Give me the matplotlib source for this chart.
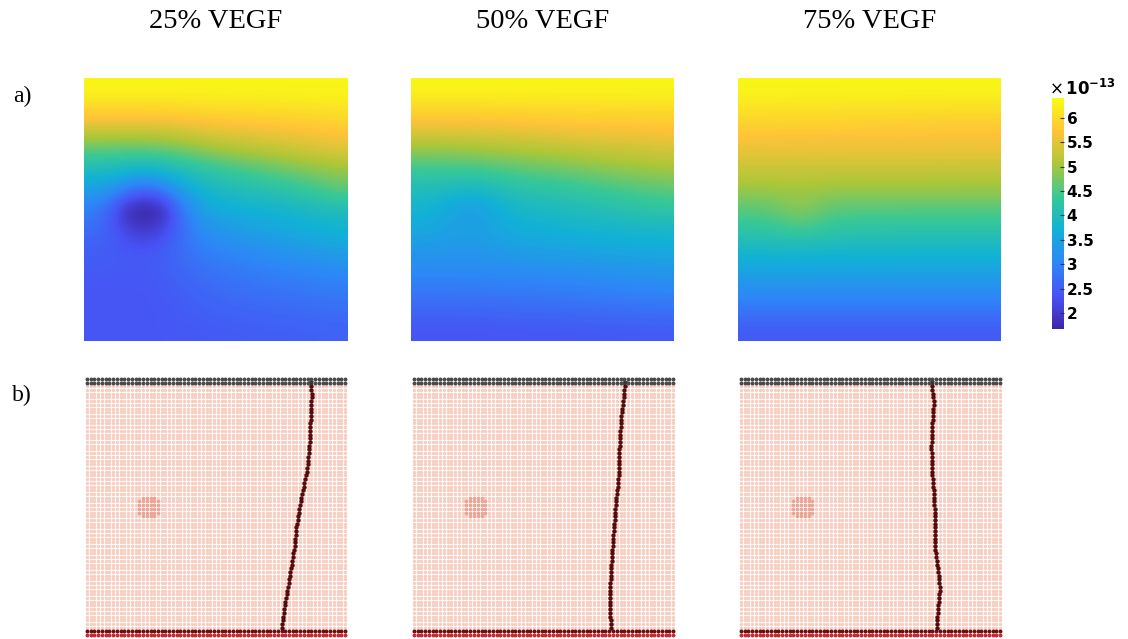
import numpy as np
import matplotlib
matplotlib.use('Agg')
import matplotlib.pyplot as plt
from matplotlib.colors import LinearSegmentedColormap

# 文字
titles = ['25% VEGF', '50% VEGF', '75% VEGF']
row_labels = ['a)', 'b)']

# VEGF 浓度场 (x 1e-13)，13 行(上->下) x 15 列
field_25 = [
    [6.35, 6.35, 6.35, 6.35, 6.35, 6.35, 6.35, 6.35, 6.35, 6.35, 6.35, 6.35, 6.35, 6.35, 6.35],
    [6.00, 6.00, 6.00, 6.00, 6.00, 6.02, 6.04, 6.05, 6.07, 6.08, 6.10, 6.10, 6.12, 6.13, 6.15],
    [5.40, 5.40, 5.40, 5.40, 5.42, 5.48, 5.54, 5.60, 5.63, 5.66, 5.68, 5.70, 5.74, 5.77, 5.80],
    [4.60, 4.60, 4.60, 4.60, 4.65, 4.75, 4.88, 5.00, 5.08, 5.16, 5.23, 5.30, 5.37, 5.44, 5.50],
    [4.00, 3.95, 3.90, 3.85, 3.92, 4.05, 4.18, 4.30, 4.40, 4.50, 4.60, 4.70, 4.80, 4.88, 4.95],
    [3.40, 3.25, 2.90, 2.60, 2.90, 3.40, 3.72, 3.90, 4.00, 4.08, 4.15, 4.22, 4.35, 4.48, 4.60],
    [2.95, 2.50, 1.70, 1.55, 1.75, 2.75, 3.35, 3.60, 3.65, 3.70, 3.75, 3.80, 3.87, 3.94, 4.00],
    [2.70, 2.50, 2.15, 1.95, 2.20, 2.65, 3.05, 3.25, 3.35, 3.45, 3.52, 3.60, 3.65, 3.70, 3.75],
    [2.50, 2.48, 2.42, 2.40, 2.50, 2.70, 2.90, 3.00, 3.07, 3.14, 3.20, 3.27, 3.33, 3.40, 3.45],
    [2.45, 2.45, 2.45, 2.45, 2.50, 2.60, 2.70, 2.80, 2.85, 2.90, 2.95, 3.00, 3.03, 3.07, 3.10],
    [2.40, 2.40, 2.40, 2.40, 2.45, 2.52, 2.60, 2.65, 2.70, 2.74, 2.78, 2.80, 2.83, 2.87, 2.90],
    [2.40, 2.40, 2.40, 2.40, 2.42, 2.46, 2.50, 2.55, 2.58, 2.60, 2.62, 2.64, 2.66, 2.68, 2.70],
    [2.40, 2.40, 2.40, 2.40, 2.41, 2.42, 2.44, 2.45, 2.47, 2.49, 2.50, 2.51, 2.52, 2.54, 2.55],
]
field_50 = [
    [6.35, 6.35, 6.35, 6.35, 6.35, 6.35, 6.35, 6.35, 6.35, 6.35, 6.35, 6.35, 6.35, 6.35, 6.35],
    [6.00, 6.00, 6.00, 6.00, 6.00, 6.00, 6.01, 6.02, 6.02, 6.03, 6.03, 6.04, 6.04, 6.05, 6.05],
    [5.55, 5.55, 5.56, 5.57, 5.59, 5.61, 5.63, 5.65, 5.67, 5.69, 5.70, 5.71, 5.72, 5.74, 5.75],
    [4.95, 4.95, 4.97, 5.00, 5.04, 5.08, 5.12, 5.15, 5.19, 5.23, 5.27, 5.30, 5.33, 5.37, 5.40],
    [4.40, 4.40, 4.40, 4.42, 4.47, 4.54, 4.60, 4.65, 4.70, 4.76, 4.82, 4.87, 4.92, 4.96, 5.00],
    [4.00, 3.98, 3.92, 3.85, 3.95, 4.07, 4.15, 4.20, 4.25, 4.30, 4.37, 4.43, 4.50, 4.55, 4.60],
    [3.80, 3.65, 3.45, 3.38, 3.50, 3.75, 3.86, 3.90, 3.95, 4.00, 4.05, 4.10, 4.15, 4.20, 4.25],
    [3.55, 3.50, 3.45, 3.42, 3.50, 3.60, 3.66, 3.70, 3.73, 3.76, 3.78, 3.80, 3.82, 3.84, 3.85],
    [3.30, 3.30, 3.30, 3.30, 3.33, 3.38, 3.42, 3.45, 3.48, 3.50, 3.53, 3.55, 3.57, 3.59, 3.60],
    [3.10, 3.10, 3.10, 3.10, 3.11, 3.13, 3.14, 3.15, 3.17, 3.19, 3.21, 3.24, 3.26, 3.28, 3.30],
    [2.85, 2.85, 2.85, 2.86, 2.87, 2.88, 2.89, 2.90, 2.92, 2.94, 2.96, 2.98, 3.00, 3.03, 3.05],
    [2.60, 2.60, 2.60, 2.61, 2.62, 2.63, 2.64, 2.65, 2.66, 2.68, 2.70, 2.71, 2.72, 2.74, 2.75],
    [2.38, 2.38, 2.38, 2.38, 2.39, 2.39, 2.40, 2.40, 2.41, 2.42, 2.42, 2.43, 2.44, 2.44, 2.45],
]
field_75 = [
    [6.35, 6.35, 6.35, 6.35, 6.35, 6.35, 6.35, 6.35, 6.35, 6.35, 6.35, 6.35, 6.35, 6.35, 6.35],
    [6.12, 6.12, 6.12, 6.11, 6.11, 6.11, 6.10, 6.10, 6.10, 6.09, 6.09, 6.09, 6.08, 6.08, 6.08],
    [5.85, 5.85, 5.84, 5.83, 5.83, 5.82, 5.81, 5.80, 5.79, 5.78, 5.78, 5.77, 5.76, 5.76, 5.75],
    [5.55, 5.55, 5.56, 5.56, 5.57, 5.57, 5.58, 5.58, 5.59, 5.59, 5.60, 5.60, 5.61, 5.61, 5.62],
    [5.30, 5.30, 5.30, 5.30, 5.29, 5.29, 5.28, 5.28, 5.28, 5.27, 5.27, 5.26, 5.26, 5.25, 5.25],
    [4.95, 4.95, 4.97, 5.00, 4.97, 4.95, 4.95, 4.95, 4.95, 4.95, 4.95, 4.95, 4.95, 4.95, 4.95],
    [4.58, 4.62, 4.72, 4.85, 4.72, 4.60, 4.56, 4.55, 4.55, 4.55, 4.55, 4.55, 4.55, 4.55, 4.55],
    [4.25, 4.28, 4.35, 4.45, 4.35, 4.27, 4.23, 4.22, 4.21, 4.21, 4.20, 4.20, 4.20, 4.20, 4.20],
    [3.85, 3.85, 3.85, 3.85, 3.84, 3.84, 3.83, 3.83, 3.83, 3.82, 3.82, 3.81, 3.81, 3.80, 3.80],
    [3.50, 3.50, 3.50, 3.50, 3.50, 3.50, 3.50, 3.50, 3.50, 3.50, 3.50, 3.50, 3.50, 3.50, 3.50],
    [3.15, 3.15, 3.15, 3.15, 3.15, 3.15, 3.15, 3.15, 3.15, 3.15, 3.15, 3.15, 3.15, 3.15, 3.15],
    [2.80, 2.80, 2.80, 2.80, 2.80, 2.80, 2.80, 2.80, 2.80, 2.80, 2.80, 2.80, 2.80, 2.80, 2.80],
    [2.45, 2.45, 2.45, 2.45, 2.45, 2.45, 2.45, 2.45, 2.45, 2.45, 2.45, 2.45, 2.45, 2.45, 2.45],
]
fields = [field_25, field_50, field_75]
vmin, vmax = 1.67, 6.41
cbar_ticks = [2, 2.5, 3, 3.5, 4, 4.5, 5, 5.5, 6]
cbar_labels = ['2', '2.5', '3', '3.5', '4', '4.5', '5', '5.5', '6']

# 细胞格子 (b 行)
n_grid = 70
source_col, source_row, source_r = 16.3, 34.3, 3.2
sprout_first_row = 2
sprout_25 = [
    59.9, 60.0, 60.1, 60.1, 60.0, 60.0, 59.9, 59.9, 59.8, 59.8,
    59.7, 59.7, 59.6, 59.6, 59.5, 59.5, 59.4, 59.3, 59.3, 59.2,
    59.1, 59.0, 58.9, 58.7, 58.5, 58.3, 58.1, 57.9, 57.7, 57.5,
    57.3, 57.1, 56.9, 56.8, 56.6, 56.5, 56.3, 56.2, 56.0, 55.9,
    55.8, 55.7, 55.6, 55.5, 55.3, 55.2, 55.0, 54.9, 54.7, 54.6,
    54.4, 54.3, 54.1, 54.0, 53.8, 53.6, 53.4, 53.2, 53.0, 52.9,
    52.7, 52.6, 52.4, 52.3, 52.1, 52.0]
sprout_50 = [
    56.1, 56.0, 55.9, 55.8, 55.7, 55.6, 55.5, 55.3, 55.2, 55.1,
    55.0, 55.0, 54.9, 54.9, 54.8, 54.8, 54.8, 54.7, 54.7, 54.7,
    54.6, 54.6, 54.6, 54.5, 54.5, 54.4, 54.3, 54.2, 54.1, 54.0,
    53.9, 53.8, 53.7, 53.6, 53.5, 53.5, 53.4, 53.3, 53.3, 53.2,
    53.1, 53.0, 52.9, 52.9, 52.8, 52.7, 52.7, 52.6, 52.5, 52.5,
    52.4, 52.4, 52.4, 52.3, 52.3, 52.3, 52.3, 52.3, 52.3, 52.3,
    52.3, 52.3, 52.3, 52.4, 52.4, 52.4]
sprout_75 = [
    51.0, 51.0, 51.1, 51.2, 51.3, 51.3, 51.2, 51.2, 51.1, 51.1,
    51.0, 51.0, 50.9, 50.9, 50.8, 50.8, 50.7, 50.7, 50.8, 50.8,
    50.9, 50.9, 51.0, 51.0, 51.0, 51.1, 51.1, 51.2, 51.3, 51.3,
    51.4, 51.5, 51.5, 51.6, 51.6, 51.7, 51.7, 51.7, 51.7, 51.7,
    51.7, 51.7, 51.8, 51.8, 51.8, 51.9, 51.9, 52.1, 52.3, 52.4,
    52.5, 52.6, 52.7, 52.8, 52.9, 52.9, 52.8, 52.7, 52.6, 52.5,
    52.4, 52.4, 52.3, 52.3, 52.2, 52.2]
sprouts = [sprout_25, sprout_50, sprout_75]

# parula 近似色表
parula = LinearSegmentedColormap.from_list('parula', [
    (0.2422, 0.1504, 0.6603), (0.2810, 0.3228, 0.9579), (0.1786, 0.5289, 0.9682),
    (0.0689, 0.6948, 0.8394), (0.2161, 0.7843, 0.5923), (0.6720, 0.7793, 0.2227),
    (0.9970, 0.7659, 0.2199), (0.9769, 0.9839, 0.0805)])

W, H = 1128, 639
def box(x0, y0, x1, y1):   # 像素框 -> figure 坐标
    return [x0 / W, 1 - y1 / H, (x1 - x0) / W, (y1 - y0) / H]

fig = plt.figure(figsize=(W / 100, H / 100), dpi=100)
serif = 'Liberation Serif'

a_boxes = [(84, 78, 348, 341), (411, 78, 674, 341), (738, 78, 1001, 341)]
b_boxes = [(85, 377, 347, 637), (412, 377, 675, 637), (739, 377, 1002, 637)]
title_x = [216, 543, 870]

# a) VEGF 场
for k in range(3):
    ax = fig.add_axes(box(*a_boxes[k]))
    im = ax.imshow(np.array(fields[k]), cmap=parula, vmin=vmin, vmax=vmax,
                   interpolation='bicubic', aspect='auto')
    ax.axis('off')
    fig.text(title_x[k] / W, 1 - 22 / H, titles[k], family=serif, fontsize=20.5,
             ha='center', va='center')

# 色条
cax = fig.add_axes(box(1052, 98, 1064, 329))
cb = fig.colorbar(im, cax=cax, ticks=cbar_ticks)
cb.outline.set_visible(False)
cb.ax.set_yticklabels(cbar_labels, fontweight='bold', fontsize=11)
cb.ax.tick_params(direction='in', length=3, width=0.8, color='#333333', pad=2)
fig.text(1049 / W, 1 - 89 / H, r'$\times\,\mathbf{10^{-13}}$', fontsize=12,
         ha='left', va='center')

# b) 细胞格子
cols, rows = np.meshgrid(np.arange(n_grid), np.arange(n_grid))
cols, rows = cols.ravel(), rows.ravel()
inner = (rows >= 2) & (rows <= n_grid - 3)
in_source = inner & ((cols - source_col) ** 2 + (rows - source_row) ** 2 <= source_r ** 2)
for k in range(3):
    ax = fig.add_axes(box(*b_boxes[k]))
    ax.set_facecolor('#fdf0e8')
    ax.scatter(cols[inner & ~in_source], rows[inner & ~in_source], s=6,
               c='#f7cdbf', marker='o', linewidths=0)
    ax.scatter(cols[in_source], rows[in_source], s=7, c='#eba393',
               marker='o', linewidths=0)
    top = rows <= 1
    ax.scatter(cols[top], rows[top], s=8, c='#4a4a4a', marker='o', linewidths=0)
    ax.scatter(cols[rows == n_grid - 2], rows[rows == n_grid - 2], s=8,
               c='#6e0c12', marker='o', linewidths=0)
    ax.scatter(cols[rows == n_grid - 1], rows[rows == n_grid - 1], s=8,
               c='#c42a2e', marker='o', linewidths=0)
    sp = sprouts[k]
    sp_rows = np.arange(sprout_first_row, sprout_first_row + len(sp))
    ax.scatter(sp, sp_rows, s=10, c='#550a0c', marker='o', linewidths=0)
    ax.scatter([sp[0]], [sprout_first_row - 1], s=12, c='#333333', marker='v',
               linewidths=0)
    ax.set_xlim(-0.5, n_grid - 0.5)
    ax.set_ylim(n_grid - 0.5, -0.5)
    ax.axis('off')

fig.text(22 / W, 1 - 96 / H, row_labels[0], family=serif, fontsize=17,
         ha='center', va='center')
fig.text(22 / W, 1 - 395 / H, row_labels[1], family=serif, fontsize=17,
         ha='center', va='center')

fig.savefig('out.png', dpi=100)
